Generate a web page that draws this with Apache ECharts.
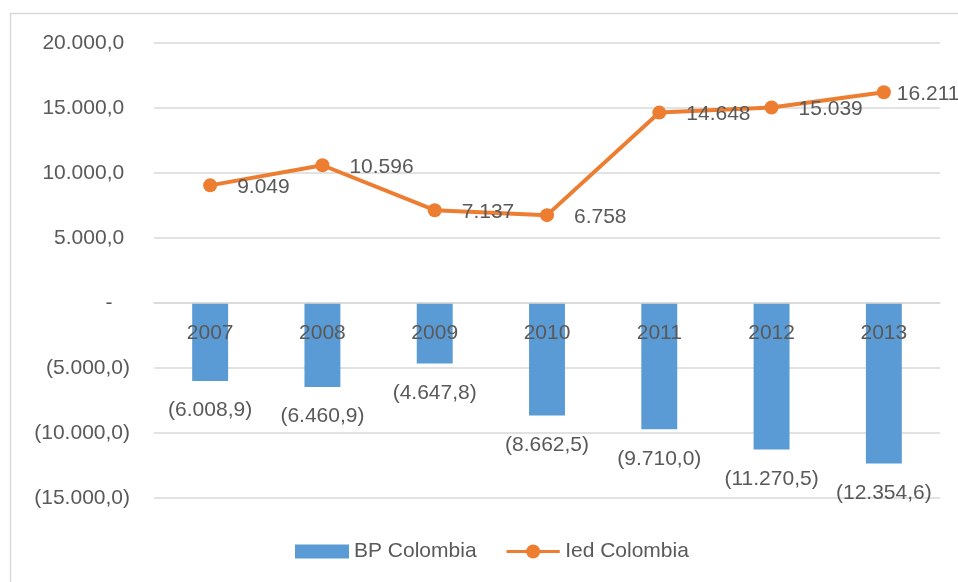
<!DOCTYPE html>
<html>
<head>
<meta charset="utf-8">
<script src="https://cdn.jsdelivr.net/npm/echarts@6/dist/echarts.min.js"></script>
<style>html,body{margin:0;padding:0;background:#fff;}#c{width:958px;height:582px;}</style>
</head>
<body>
<div id="c"></div>
<script>
var categories = ['2007', '2008', '2009', '2010', '2011', '2012', '2013'];
var bpColombia = [-6008.9, -6460.9, -4647.8, -8662.5, -9710.0, -11270.5, -12354.6];
var iedColombia = [9049, 10596, 7137, 6758, 14648, 15039, 16211];
var seriesNames = ['BP Colombia', 'Ied Colombia'];

var FONT = 'Liberation Sans';
var TXT = '#595959';

function fmt(v, dec) {
  var s = Math.abs(v).toFixed(dec);
  var parts = s.split('.');
  var ip = parts[0].replace(/\B(?=(\d{3})+(?!\d))/g, '.');
  return dec > 0 ? ip + ',' + parts[1] : ip;
}

var lineIcon = 'path://M0,6.5H57V9.5H0Z M36,8A7.5,7.5,0,1,1,21,8A7.5,7.5,0,1,1,36,8Z';

var chart = echarts.init(document.getElementById('c'));
chart.setOption({
  animation: false,
  textStyle: { fontFamily: FONT },
  graphic: [{
    type: 'rect', left: 8, top: 11,
    shape: { width: 1000, height: 1000 },
    style: { fill: 'none', stroke: '#d9d9d9', lineWidth: 1.5 },
    silent: true
  }],
  grid: { left: 154, right: 18, top: 43, bottom: 84 },
  legend: {
    bottom: 15,
    left: 290,
    itemWidth: 54,
    itemHeight: 14,
    itemGap: 30,
    textStyle: { color: TXT, fontSize: 21, fontFamily: FONT },
    data: [
      { name: seriesNames[0], icon: 'rect' },
      { name: seriesNames[1], icon: lineIcon }
    ]
  },
  xAxis: {
    type: 'category',
    data: categories,
    z: 10,
    position: 'bottom',
    offset: -195,
    axisLine: { show: true, onZero: false, lineStyle: { color: '#d9d9d9', width: 1.5 } },
    axisTick: { show: false },
    axisLabel: { color: TXT, fontSize: 21, fontFamily: FONT, margin: 20 }
  },
  yAxis: {
    type: 'value',
    min: -15000, max: 20000, interval: 5000,
    axisLine: { show: false },
    axisTick: { show: false },
    splitLine: { lineStyle: { color: '#d9d9d9', width: 1.5 } },
    axisLabel: {
      color: TXT, fontSize: 21, fontFamily: FONT, margin: 24,
      formatter: function (v) {
        if (v === 0) return '-   ';
        if (v < 0) return '(' + fmt(v, 1) + ')';
        return fmt(v, 1) + ' ';
      }
    }
  },
  series: [{
    name: seriesNames[0],
    type: 'bar',
    data: bpColombia,
    barWidth: '32%',
    itemStyle: { color: '#5b9bd5' },
    label: {
      show: true, position: 'bottom', distance: 19,
      color: TXT, fontSize: 21, fontFamily: FONT,
      formatter: function (p) { return '(' + fmt(p.value, 1) + ')'; }
    }
  }, {
    name: seriesNames[1],
    type: 'line',
    data: iedColombia.map(function (v, i) {
      return i === iedColombia.length - 1 ? { value: v, label: { distance: 6 } } : v;
    }),
    z: 5,
    symbol: 'circle',
    symbolSize: 14,
    lineStyle: { color: '#ed7d31', width: 4 },
    itemStyle: { color: '#ed7d31' },
    label: {
      show: true, position: 'right', distance: 20, offset: [0, 2],
      color: TXT, fontSize: 21, fontFamily: FONT,
      formatter: function (p) { return fmt(p.value, 0); }
    }
  }]
});
</script>
</body>
</html>
